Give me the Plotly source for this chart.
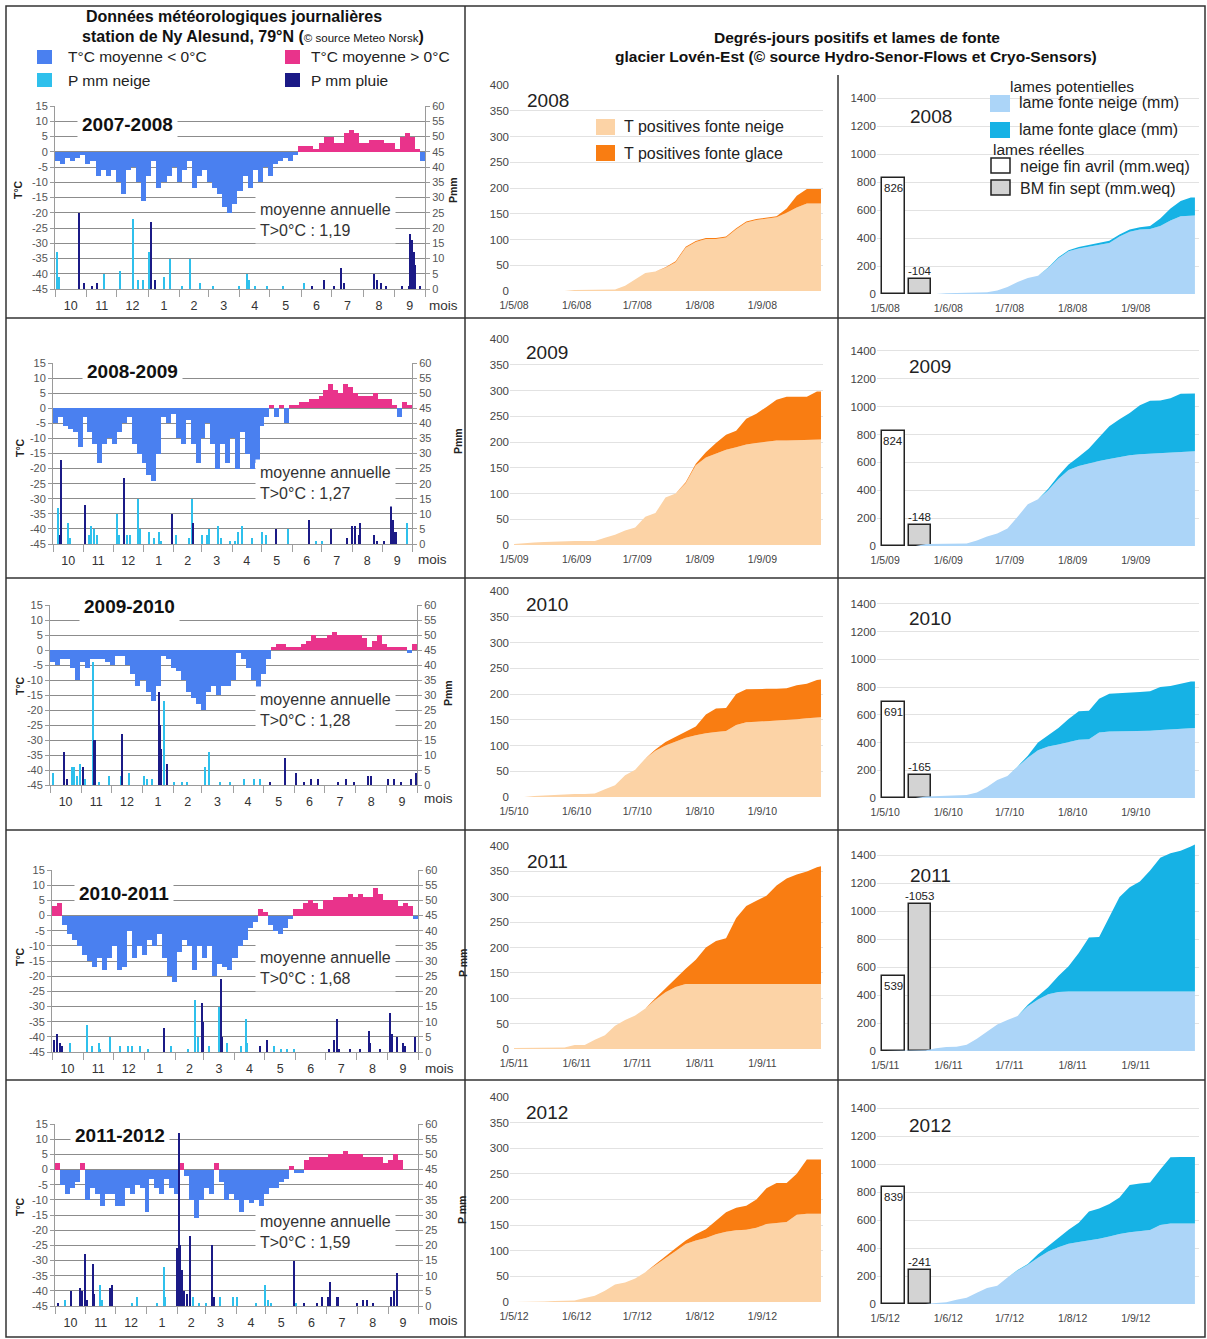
import plotly.graph_objects as go

W, H = 1207, 1339
FONT = "Arial, Liberation Sans, sans-serif"

# ------------------------------------------------------------------ data
SEASONS = ["2007-2008", "2008-2009", "2009-2010", "2010-2011", "2011-2012"]
SUMMERS = ["2008", "2009", "2010", "2011", "2012"]
MEAN_TPOS = ["1,19", "1,27", "1,28", "1,68", "1,59"]
MONTH_LABELS = ["10", "11", "12", "1", "2", "3", "4", "5", "6", "7", "8", "9"]
MONTH_DAYS = [31, 30, 31, 31, 28, 31, 30, 31, 30, 31, 31, 30]

# 5-day mean temperatures (°C) from 1 October
TEMP_0708 = [-3, -4, -2, -3, -2, -1, -4, -3, -8, -6, -8, -6, -10, -14, -6, -5, -10, -16, -8, -3,
             -12, -10, -8, -5, -10, -6, -3, -12, -8, -6, -10, -12, -14, -18, -20, -17, -13, -8, -12, -6,
             -10, -5, -8, -4, -3, -2, -3, -1, 2, 2, 2, 1, 3, 5, 5, 3, 3, 6, 7, 6,
             3, 3, 4, 4, 4, 3, 3, 1, 5, 6, 5, 1, -3]
TEMP_0809 = [-5, -3, -6, -7, -8, -13, -3, -8, -12, -18, -12, -10, -12, -8, -5, -3, -12, -15, -18, -22,
             -24, -15, -3, -5, -2, -10, -12, -4, -12, -18, -10, -5, -12, -20, -12, -18, -10, -20, -8, -15,
             -20, -18, -6, -3, 1, -3, 1, -5, 1, 1, 2, 2, 3, 3, 4, 6, 8, 6, 5, 8,
             7, 5, 4, 4, 4, 5, 3, 3, 3, 1, -3, 2, 1]
TEMP_0910 = [-4, -5, -3, -3, -6, -10, -4, -6, -3, -3, -3, -4, -5, -2, -2, -5, -8, -12, -10, -14,
             -17, -12, -2, -3, -6, -7, -10, -14, -16, -18, -20, -14, -12, -15, -12, -12, -10, -1, -3, -6,
             -10, -14, -8, -3, 1, 2, 2, 1, 1, 1, 2, 3, 5, 4, 4, 5, 6, 5, 5, 5,
             5, 5, 4, 1, 3, 5, 2, 1, 1, 1, 1, -1, 2]
TEMP_1011 = [3, 4, -3, -6, -8, -10, -13, -15, -17, -14, -18, -14, -10, -18, -17, -5, -14, -10, -13, -8,
             -10, -6, -14, -20, -22, -12, -8, -10, -18, -10, -14, -10, -20, -16, -17, -18, -14, -10, -8, -4,
             -2, 2, 1, -3, -5, -6, -4, -1, 2, 2, 4, 5, 4, 2, 5, 5, 6, 6, 6, 7,
             6, 7, 6, 6, 9, 7, 5, 5, 5, 3, 4, 3, -1]
TEMP_1112 = [2, -5, -8, -6, -4, 2, -10, -6, -8, -12, -8, -8, -12, -12, -6, -8, -5, -6, -14, -3,
             -6, -8, -3, -6, -8, 2, -2, -10, -16, -10, -6, -8, 2, -4, -10, -8, -10, -14, -10, -11,
             -10, -12, -8, -6, -6, -4, -3, 1, -1, -1, 3, 4, 4, 4, 4, 5, 5, 5, 6, 5,
             5, 5, 4, 4, 4, 4, 2, 3, 5, 3, None, None, None]

# daily precipitation events: (day from 1 October, mm)
SNOW_0708 = [(2, 12), (4, 4), (48, 5), (64, 6), (77, 23), (82, 3), (87, 3), (92, 12), (107, 4), (113, 10),
             (125, 1), (133, 10), (143, 2), (156, 1), (181, 1), (189, 5), (191, 3), (197, 1), (209, 1),
             (225, 1), (245, 2)]
RAIN_0708 = [(23, 25), (28, 2), (36, 1), (41, 2), (94, 22), (98, 3), (253, 1), (265, 3), (275, 1), (282, 7),
             (285, 2), (314, 5), (317, 3), (321, 2), (326, 1), (342, 1), (349, 1), (350, 18), (352, 16),
             (354, 12), (355, 8), (360, 1)]
SNOW_0809 = [(5, 12), (15, 7), (17, 2), (36, 3), (38, 6), (41, 5), (44, 3), (65, 10), (67, 3), (75, 3),
             (78, 3), (86, 15), (88, 5), (97, 4), (102, 2), (107, 4), (110, 1), (125, 3), (138, 2), (141, 15),
             (151, 3), (156, 3), (158, 5), (168, 6), (171, 2), (180, 1), (185, 1), (188, 4), (192, 6),
             (202, 2), (212, 4), (216, 3), (239, 5), (267, 1), (273, 1), (360, 7)]
RAIN_0809 = [(7, 3), (8, 28), (32, 13), (72, 22), (121, 10), (142, 7), (226, 5), (260, 8), (282, 5),
             (299, 2), (304, 6), (307, 6), (311, 3), (312, 7), (326, 3), (329, 1), (336, 1), (343, 14),
             (345, 8), (346, 4), (348, 4)]
SNOW_0910 = [(3, 4), (22, 6), (24, 6), (27, 3), (30, 7), (35, 2), (43, 41), (48, 1), (58, 3), (70, 3),
             (78, 4), (93, 3), (96, 2), (101, 2), (113, 28), (123, 1), (131, 1), (136, 1), (154, 6),
             (158, 11), (169, 1), (179, 1), (193, 2), (203, 2), (209, 2)]
RAIN_0910 = [(14, 11), (17, 2), (33, 6), (44, 15), (71, 17), (108, 31), (109, 20), (110, 12), (116, 7),
             (219, 1), (233, 9), (244, 4), (252, 1), (259, 2), (266, 2), (286, 1), (294, 2), (302, 1),
             (316, 3), (319, 3), (336, 2), (342, 2), (349, 1), (359, 2), (364, 4)]
SNOW_1011 = [(18, 3), (35, 9), (40, 2), (47, 3), (48, 1), (58, 5), (68, 2), (76, 2), (80, 2), (88, 2),
             (95, 1), (118, 2), (135, 1), (142, 17), (145, 5), (156, 2), (166, 15), (174, 3), (188, 2),
             (193, 11), (194, 3), (221, 2), (228, 1), (234, 1), (241, 1)]
RAIN_1011 = [(2, 4), (5, 6), (8, 3), (10, 2), (111, 8), (149, 16), (150, 10), (168, 24), (169, 5),
             (207, 2), (214, 4), (276, 1), (281, 4), (284, 11), (286, 1), (297, 1), (307, 1), (316, 7),
             (317, 3), (327, 1), (337, 13), (339, 6), (344, 5), (350, 3), (352, 2), (362, 5)]
SNOW_1112 = [(10, 2), (45, 7), (47, 2), (77, 1), (82, 3), (102, 1), (109, 13), (110, 3), (139, 3),
             (145, 1), (152, 1), (166, 3), (179, 3), (183, 3), (202, 1), (211, 7), (214, 2), (217, 1),
             (242, 1)]
RAIN_1112 = [(3, 1), (16, 5), (25, 6), (27, 5), (30, 17), (32, 2), (38, 14), (39, 4), (55, 6), (57, 7),
             (122, 19), (124, 57), (125, 20), (127, 12), (129, 5), (132, 4), (135, 23), (158, 20),
             (160, 3), (240, 15), (250, 1), (263, 1), (268, 3), (274, 3), (276, 8), (283, 3), (284, 3),
             (303, 1), (309, 2), (313, 2), (319, 1), (338, 3), (341, 5), (344, 11)]

# cumulative positive degree-days (sampled dates, 1 May -> 30 Sept)
DD_DATES = ["05-01", "05-06", "05-11", "05-16", "05-21", "05-26", "05-31",
            "06-05", "06-10", "06-15", "06-20", "06-25", "06-30",
            "07-05", "07-10", "07-15", "07-20", "07-25", "07-30",
            "08-04", "08-09", "08-14", "08-19", "08-24", "08-29",
            "09-03", "09-08", "09-13", "09-18", "09-23", "09-28", "09-30"]
DD_SNOW_2008 = [0, 0, 0, 0, 0, 0, 2, 2, 3, 3, 3, 10, 22, 35, 38, 45, 56, 84, 95, 101, 101, 104, 120, 133, 138, 140, 143, 152, 162, 170, 170, 170]
DD_TOTAL_2008 = [0, 0, 0, 0, 0, 0, 2, 2, 3, 3, 3, 10, 22, 35, 38, 46, 58, 86, 97, 103, 103, 106, 122, 135, 140, 142, 145, 160, 185, 198, 198, 198]
DD_SNOW_2009 = [2, 4, 5, 6, 7, 7, 8, 8, 8, 14, 20, 28, 34, 55, 62, 92, 100, 120, 155, 170, 178, 185, 190, 195, 198, 201, 203, 203, 204, 205, 205, 205]
DD_TOTAL_2009 = [2, 4, 5, 6, 7, 7, 8, 8, 8, 14, 20, 28, 34, 55, 62, 92, 100, 122, 158, 180, 198, 214, 222, 245, 255, 268, 282, 288, 288, 288, 298, 298]
DD_SNOW_2010 = [0, 0, 2, 3, 5, 5, 6, 6, 7, 15, 23, 42, 53, 75, 90, 100, 107, 115, 120, 124, 126, 128, 140, 145, 146, 147, 148, 150, 151, 153, 155, 155]
DD_TOTAL_2010 = [0, 0, 2, 3, 5, 5, 6, 6, 7, 15, 23, 42, 53, 75, 92, 107, 117, 127, 137, 160, 172, 173, 200, 209, 210, 210, 210, 211, 217, 220, 227, 228]
DD_SNOW_2011 = [2, 2, 2, 2, 3, 3, 8, 8, 18, 27, 46, 57, 66, 80, 97, 112, 122, 128, 128, 128, 128, 128, 128, 128, 128, 128, 128, 128, 128, 128, 128, 128]
DD_TOTAL_2011 = [2, 2, 2, 2, 3, 3, 8, 8, 18, 27, 46, 57, 66, 80, 100, 120, 140, 158, 176, 200, 213, 218, 258, 282, 292, 302, 322, 336, 344, 350, 358, 360]
DD_SNOW_2012 = [0, 0, 0, 1, 2, 2, 3, 8, 12, 22, 34, 38, 46, 58, 72, 86, 100, 113, 120, 125, 132, 137, 140, 141, 145, 152, 154, 156, 170, 172, 172, 172]
DD_TOTAL_2012 = [0, 0, 0, 1, 2, 2, 3, 8, 12, 22, 34, 38, 46, 58, 74, 90, 105, 120, 132, 142, 158, 175, 184, 188, 200, 222, 232, 232, 250, 278, 278, 278]

# cumulative potential melt (mm)
MELT_SNOW_2008 = [0, 0, 0, 0, 0, 0, 6, 8, 10, 10, 12, 25, 50, 85, 115, 130, 185, 255, 305, 325, 338, 348, 365, 410, 445, 460, 465, 485, 525, 555, 560, 560]
MELT_TOTAL_2008 = [0, 0, 0, 0, 0, 0, 6, 8, 10, 10, 12, 25, 50, 85, 115, 130, 190, 262, 313, 335, 350, 360, 380, 425, 460, 477, 485, 540, 610, 665, 690, 690]
MELT_SNOW_2009 = [0, 0, 0, 0, 15, 15, 15, 15, 18, 40, 68, 90, 125, 210, 300, 335, 400, 480, 545, 575, 595, 610, 625, 640, 652, 658, 662, 665, 670, 675, 680, 680]
MELT_TOTAL_2009 = [0, 0, 0, 0, 15, 15, 15, 15, 18, 40, 68, 90, 125, 210, 300, 335, 410, 505, 585, 640, 700, 780, 860, 910, 955, 1010, 1042, 1045, 1060, 1092, 1095, 1095]
MELT_SNOW_2010 = [0, 0, 0, 0, 10, 12, 15, 18, 22, 40, 80, 130, 158, 225, 290, 345, 372, 385, 403, 420, 424, 472, 480, 480, 480, 482, 485, 490, 495, 500, 505, 505]
MELT_TOTAL_2010 = [0, 0, 0, 0, 10, 12, 15, 18, 22, 40, 80, 130, 158, 228, 305, 400, 450, 505, 570, 625, 630, 715, 752, 758, 760, 765, 770, 800, 808, 825, 840, 840]
MELT_SNOW_2011 = [0, 0, 0, 0, 5, 20, 28, 30, 45, 88, 140, 190, 222, 250, 320, 368, 405, 422, 425, 425, 425, 425, 425, 425, 425, 425, 425, 425, 425, 425, 425, 425]
MELT_TOTAL_2011 = [0, 0, 0, 0, 5, 20, 28, 30, 45, 88, 140, 190, 222, 250, 330, 392, 455, 535, 605, 700, 810, 815, 960, 1100, 1170, 1210, 1290, 1380, 1412, 1430, 1460, 1475]
MELT_SNOW_2012 = [0, 0, 0, 0, 0, 8, 12, 30, 45, 80, 115, 130, 190, 240, 280, 330, 375, 405, 430, 442, 452, 466, 482, 500, 512, 520, 528, 565, 575, 575, 575, 575]
MELT_TOTAL_2012 = [0, 0, 0, 0, 0, 8, 12, 30, 45, 80, 115, 130, 190, 242, 285, 355, 415, 470, 530, 580, 660, 682, 715, 760, 850, 860, 868, 960, 1048, 1050, 1050, 1050]

# measured (real) water equivalents
SNOW_END_APRIL = [826, 824, 691, 539, 839]
MB_END_SEPT = [-104, -148, -165, -1053, -241]

TEMPS = [TEMP_0708, TEMP_0809, TEMP_0910, TEMP_1011, TEMP_1112]
SNOWS = [SNOW_0708, SNOW_0809, SNOW_0910, SNOW_1011, SNOW_1112]
RAINS = [RAIN_0708, RAIN_0809, RAIN_0910, RAIN_1011, RAIN_1112]
DD_SNOW = [DD_SNOW_2008, DD_SNOW_2009, DD_SNOW_2010, DD_SNOW_2011, DD_SNOW_2012]
DD_TOTAL = [DD_TOTAL_2008, DD_TOTAL_2009, DD_TOTAL_2010, DD_TOTAL_2011, DD_TOTAL_2012]
MELT_SNOW = [MELT_SNOW_2008, MELT_SNOW_2009, MELT_SNOW_2010, MELT_SNOW_2011, MELT_SNOW_2012]
MELT_TOTAL = [MELT_TOTAL_2008, MELT_TOTAL_2009, MELT_TOTAL_2010, MELT_TOTAL_2011, MELT_TOTAL_2012]

# ------------------------------------------------------------------ colours
C_TNEG = "#4a80f0"
C_TPOS = "#e9338b"
C_SNOWP = "#2fc0ec"
C_RAINP = "#1b1a86"
C_DDS = "#fcd3a6"
C_DDI = "#f97d12"
C_MS = "#acd5f8"
C_MI = "#16b2e5"
C_GREY = "#d3d3d3"

# ------------------------------------------------------------------ geometry (pixels)
T_X = [(55, 425), (53, 412), (50, 417), (52, 418), (55, 418)]
T_Y = [(106, 289), (363, 544), (605, 785), (870, 1052), (1124, 1306)]
C2_X = (510, 823)
C2_Y = [(85, 291), (339, 545), (591, 797), (846, 1049), (1097, 1302)]
C3_X = (877, 1199)
C3_Y = [(84, 294), (337, 546), (590, 798), (841, 1051), (1094, 1304)]
TITLE_POS = [(77, 125), (82, 371), (79, 607), (74, 893), (70, 1135)]
MEAN_POS = [(255, 220), (255, 483), (255, 710), (255, 968), (255, 1232)]
TC_POS = [(18, 190), (20, 448), (20, 686), (20, 957), (20, 1207)]
PMM_POS = [(453, 190), (458, 441), (448, 693), (463, 963), (462, 1210)]
PMM_TXT = ["Pmm", "Pmm", "Pmm", "P mm", "P mm"]
MOIS_POS = [(443, 305), (432, 559), (438, 799), (439, 1068), (443, 1320)]
Y2_POS = [(525, 100), (524, 353), (524, 604), (525, 861), (524, 1112)]
Y3_POS = [(908, 117), (907, 366), (907, 618), (908, 875), (907, 1125)]


def pxx(x):
    return x / W


def pxy(y):
    return 1 - y / H


def dom_x(a):
    return [pxx(a[0]), pxx(a[1])]


def dom_y(a):
    return [pxy(a[1]), pxy(a[0])]


def an(kind, i):
    return f"{kind}axis" if i == 1 else f"{kind}axis{i}"


def rf(kind, i):
    return kind if i == 1 else f"{kind}{i}"


fig = go.Figure()
layout = {}
annotations = []
shapes = []


def text(t, x, y, size, xanchor="left", color="#222", bg=None, angle=0, pad=1, yanchor="middle", align="left"):
    d = dict(text=t, x=pxx(x), y=pxy(y), xref="paper", yref="paper", showarrow=False,
             xanchor=xanchor, yanchor=yanchor, align=align, textangle=angle, borderpad=pad,
             font=dict(size=size, color=color, family=FONT))
    if bg:
        d["bgcolor"] = bg
    annotations.append(d)


# month geometry (days from 1 Oct)
bounds = [0]
for m in MONTH_DAYS:
    bounds.append(bounds[-1] + m)
centers = [(bounds[i] + bounds[i + 1]) / 2 for i in range(12)]
t_ticks = list(range(-45, 16, 5))
p_ticks = list(range(0, 61, 5))

for r in range(5):
    xi1, xi2, xi3 = 3 * r + 1, 3 * r + 2, 3 * r + 3
    yT, yP, y2, y3 = 4 * r + 1, 4 * r + 2, 4 * r + 3, 4 * r + 4
    yr = SUMMERS[r]
    yy = yr[2:]

    # ---------------- column 1 : temperature + precipitation
    temps = TEMPS[r]
    tx = [2.5 + 5 * i for i, v in enumerate(temps) if v is not None]
    tv = [v for v in temps if v is not None]
    fig.add_trace(go.Bar(x=tx, y=tv, width=5,
                         marker=dict(color=[C_TPOS if v > 0 else C_TNEG for v in tv], line=dict(width=0)),
                         xaxis=rf("x", xi1), yaxis=rf("y", yT), showlegend=False, hoverinfo="skip"))
    for ev, col in ((SNOWS[r], C_SNOWP), (RAINS[r], C_RAINP)):
        fig.add_trace(go.Bar(x=[d + 0.5 for d, _ in ev], y=[v for _, v in ev], width=1.5,
                             marker=dict(color=col, line=dict(width=0)),
                             xaxis=rf("x", xi1), yaxis=rf("y", yP), showlegend=False, hoverinfo="skip"))

    layout[an("x", xi1)] = dict(
        domain=dom_x(T_X[r]), range=[0, 365], anchor=rf("y", yT),
        tickmode="array", tickvals=centers, ticktext=MONTH_LABELS, ticks="",
        showgrid=False, zeroline=False, showline=True, linecolor="#9a9a9a", linewidth=1,
        tickfont=dict(size=12.5, color="#333", family=FONT), ticklabelstandoff=5,
        minor=dict(tickmode="array", tickvals=bounds, ticks="outside", ticklen=7,
                   tickcolor="#a0a0a0", showgrid=False),
        automargin=False, fixedrange=True)
    layout[an("y", yT)] = dict(
        domain=dom_y(T_Y[r]), range=[-45, 15], anchor=rf("x", xi1),
        tickmode="array", tickvals=t_ticks, ticktext=[str(v) for v in t_ticks],
        showgrid=True, gridcolor="#8c8c8c", gridwidth=1, zeroline=False,
        showline=True, linecolor="#9a9a9a", ticks="outside", ticklen=4, tickcolor="#9a9a9a",
        tickfont=dict(size=11, color="#555", family=FONT), automargin=False, fixedrange=True)
    layout[an("y", yP)] = dict(
        domain=dom_y(T_Y[r]), range=[0, 60], anchor=rf("x", xi1), overlaying=rf("y", yT), side="right",
        tickmode="array", tickvals=p_ticks, ticktext=[str(v) for v in p_ticks],
        showgrid=False, zeroline=False, showline=True, linecolor="#9a9a9a",
        ticks="outside", ticklen=4, tickcolor="#9a9a9a",
        tickfont=dict(size=11, color="#555", family=FONT), automargin=False, fixedrange=True)

    text(f"<b>{SEASONS[r]}</b>", TITLE_POS[r][0], TITLE_POS[r][1], 19, bg="white", pad=4, color="#111")
    text(f"moyenne annuelle<br>T&gt;0°C : {MEAN_TPOS[r]}", MEAN_POS[r][0], MEAN_POS[r][1], 16,
         bg="white", pad=4, color="#333")
    text("<b>T°C</b>", TC_POS[r][0], TC_POS[r][1], 10.5, xanchor="center", angle=-90, color="#222")
    text(f"<b>{PMM_TXT[r]}</b>", PMM_POS[r][0], PMM_POS[r][1], 10.5, xanchor="center", angle=-90, color="#222")
    text("mois", MOIS_POS[r][0], MOIS_POS[r][1], 13.5, xanchor="center", color="#333")

    # ---------------- column 2 : positive degree-days
    dates = [f"{yr}-{d}" for d in DD_DATES]
    fig.add_trace(go.Scatter(x=dates, y=DD_SNOW[r], mode="lines", line=dict(width=0, color=C_DDS),
                             fill="tozeroy", fillcolor=C_DDS,
                             xaxis=rf("x", xi2), yaxis=rf("y", y2), showlegend=False, hoverinfo="skip"))
    fig.add_trace(go.Scatter(x=dates, y=DD_TOTAL[r], mode="lines", line=dict(width=0, color=C_DDI),
                             fill="tonexty", fillcolor=C_DDI,
                             xaxis=rf("x", xi2), yaxis=rf("y", y2), showlegend=False, hoverinfo="skip"))
    month_ticks = [f"{yr}-{m:02d}-01" for m in (5, 6, 7, 8, 9)]
    month_text = [f"1/{m}/{yy}" for m in (5, 6, 7, 8, 9)]
    layout[an("x", xi2)] = dict(
        domain=dom_x(C2_X), type="date", range=[f"{yr}-04-29", f"{yr}-10-01"], anchor=rf("y", y2),
        tickmode="array", tickvals=month_ticks, ticktext=month_text, ticks="",
        showgrid=False, zeroline=False, showline=False,
        tickfont=dict(size=10.5, color="#444", family=FONT), ticklabelstandoff=6,
        automargin=False, fixedrange=True)
    layout[an("y", y2)] = dict(
        domain=dom_y(C2_Y[r]), range=[0, 400], anchor=rf("x", xi2),
        tickmode="array", tickvals=list(range(0, 401, 50)),
        showgrid=True, gridcolor="#e2e2e2", gridwidth=1, zeroline=False, showline=False, ticks="",
        tickfont=dict(size=11.5, color="#444", family=FONT), automargin=False, fixedrange=True)
    text(yr, Y2_POS[r][0], Y2_POS[r][1], 19, color="#222")

    # ---------------- column 3 : melt water equivalents
    fig.add_trace(go.Scatter(x=dates, y=MELT_SNOW[r], mode="lines", line=dict(width=0, color=C_MS),
                             fill="tozeroy", fillcolor=C_MS,
                             xaxis=rf("x", xi3), yaxis=rf("y", y3), showlegend=False, hoverinfo="skip"))
    fig.add_trace(go.Scatter(x=dates, y=MELT_TOTAL[r], mode="lines", line=dict(width=0, color=C_MI),
                             fill="tonexty", fillcolor=C_MI,
                             xaxis=rf("x", xi3), yaxis=rf("y", y3), showlegend=False, hoverinfo="skip"))
    bar_w = 11 * 86400000
    x_snow, x_mb = f"{yr}-05-05", f"{yr}-05-18"
    fig.add_trace(go.Bar(x=[x_snow], y=[SNOW_END_APRIL[r]], width=bar_w,
                         marker=dict(color="white", line=dict(color="#222", width=1.5)),
                         xaxis=rf("x", xi3), yaxis=rf("y", y3), showlegend=False, hoverinfo="skip"))
    fig.add_trace(go.Bar(x=[x_mb], y=[abs(MB_END_SEPT[r])], width=bar_w,
                         marker=dict(color=C_GREY, line=dict(color="#222", width=1.5)),
                         xaxis=rf("x", xi3), yaxis=rf("y", y3), showlegend=False, hoverinfo="skip"))
    annotations.append(dict(text=str(SNOW_END_APRIL[r]), x=x_snow, y=SNOW_END_APRIL[r],
                            xref=rf("x", xi3), yref=rf("y", y3), showarrow=False,
                            xanchor="center", yanchor="top", yshift=-2,
                            font=dict(size=11.5, color="#222", family=FONT)))
    annotations.append(dict(text=str(MB_END_SEPT[r]), x=x_mb, y=abs(MB_END_SEPT[r]),
                            xref=rf("x", xi3), yref=rf("y", y3), showarrow=False,
                            xanchor="center", yanchor="bottom", yshift=0,
                            font=dict(size=11.5, color="#222", family=FONT)))
    layout[an("x", xi3)] = dict(
        domain=dom_x(C3_X), type="date", range=[f"{yr}-04-27", f"{yr}-10-02"], anchor=rf("y", y3),
        tickmode="array", tickvals=month_ticks, ticktext=month_text, ticks="",
        showgrid=False, zeroline=False, showline=False,
        tickfont=dict(size=10.5, color="#444", family=FONT), ticklabelstandoff=6,
        automargin=False, fixedrange=True)
    layout[an("y", y3)] = dict(
        domain=dom_y(C3_Y[r]), range=[0, 1500], anchor=rf("x", xi3),
        tickmode="array", tickvals=list(range(0, 1401, 200)),
        showgrid=True, gridcolor="#e2e2e2", gridwidth=1, zeroline=False, showline=False, ticks="",
        tickfont=dict(size=11.5, color="#444", family=FONT), automargin=False, fixedrange=True)
    text(yr, Y3_POS[r][0], Y3_POS[r][1], 19, color="#222")

# ------------------------------------------------------------------ headers & legends
text("<b>Données météorologiques journalières</b>", 234, 16, 16, xanchor="center", color="#111")
text("<b>station de Ny Alesund, 79°N (</b><span style='font-size:11.5px'>© source Meteo Norsk</span><b>)</b>",
     253, 36, 16, xanchor="center", color="#111")
text("<b>Degrés-jours positifs et lames de fonte</b>", 857, 38, 15.5, xanchor="center", color="#111")
text("<b>glacier Lovén-Est (© source Hydro-Senor-Flows et Cryo-Sensors)</b>", 856, 57, 15.5,
     xanchor="center", color="#111")


def square(x0, y0, x1, y1, fill, line=None):
    shapes.append(dict(type="rect", xref="paper", yref="paper", x0=pxx(x0), x1=pxx(x1),
                       y0=pxy(y1), y1=pxy(y0), fillcolor=fill,
                       line=dict(color=line or fill, width=1.5 if line else 0)))


square(37, 50, 52, 64, C_TNEG)
text("T°C moyenne &lt; 0°C", 66, 57, 15.5, color="#222")
square(285, 50, 300, 64, C_TPOS)
text("T°C moyenne &gt; 0°C", 309, 57, 15.5, color="#222")
square(37, 73, 52, 87, C_SNOWP)
text("P mm neige", 66, 80, 15.5, color="#222")
square(285, 73, 300, 87, C_RAINP)
text("P mm pluie", 309, 80, 15.5, color="#222")

square(596, 119, 615, 135, C_DDS)
text("T positives fonte neige", 622, 126, 16, color="#222")
square(596, 145, 615, 161, C_DDI)
text("T positives fonte glace", 622, 153, 16, color="#222")

text("lames potentielles", 1008, 86, 15.5, color="#222")
square(990, 95, 1010, 112, C_MS)
text("lame fonte neige (mm)", 1017, 103, 16, color="#222")
square(990, 122, 1010, 138, C_MI)
text("lame fonte glace (mm)", 1017, 130, 16, color="#222")
text("lames réelles", 991, 150, 15.5, color="#222")
square(991, 158, 1010, 173, "white", "#222")
text("neige fin avril (mm.weq)", 1018, 166, 16, color="#222")
square(991, 180, 1010, 195, C_GREY, "#222")
text("BM fin sept (mm.weq)", 1018, 188, 16, color="#222")


# ------------------------------------------------------------------ frame
def line(x0, y0, x1, y1):
    shapes.append(dict(type="line", xref="paper", yref="paper", x0=pxx(x0), x1=pxx(x1),
                       y0=pxy(y0), y1=pxy(y1), line=dict(color="#333", width=1.5)))


shapes.append(dict(type="rect", xref="paper", yref="paper", x0=pxx(6), x1=pxx(1205),
                   y0=pxy(1337), y1=pxy(6), line=dict(color="#333", width=1.5)))
for yv in (318, 578, 830, 1080):
    line(6, yv, 1205, yv)
line(465, 6, 465, 1337)
line(838, 75, 838, 1337)

fig.update_layout(
    width=W, height=H, margin=dict(l=0, r=0, t=0, b=0, pad=0),
    paper_bgcolor="white", plot_bgcolor="rgba(0,0,0,0)",
    barmode="overlay", bargap=0, showlegend=False,
    font=dict(family=FONT, color="#222"),
    annotations=annotations, shapes=shapes, **layout)

fig.write_html("out.html", config={"displayModeBar": False},
               post_script="document.body.style.margin='0';document.body.style.overflow='hidden';")
